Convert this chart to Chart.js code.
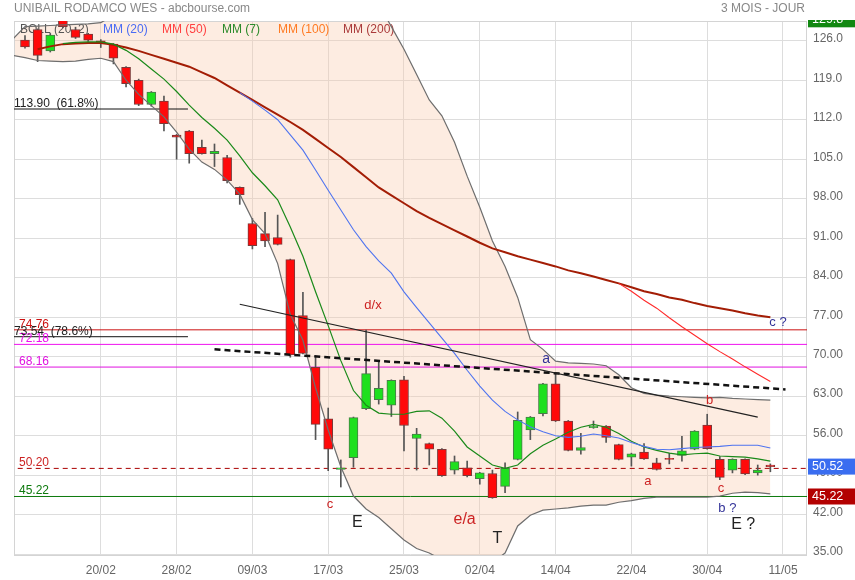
<!DOCTYPE html>
<html lang="fr">
<head>
<meta charset="utf-8">
<title>UNIBAIL RODAMCO WES - abcbourse.com</title>
<script src="https://cdn.jsdelivr.net/npm/chart.js@4.4.1/dist/chart.umd.min.js"></script>
<style>
  html, body { margin: 0; padding: 0; background: #fff; }
  #zone { width: 855px; height: 580px; }
</style>
</head>
<body>
<div id="zone"><canvas id="graf" width="855" height="580"></canvas></div>
<script>
const FONT = "'Liberation Sans', Arial, sans-serif";

// 🔹 AXES
const dateLabels = ['20/02', '28/02', '09/03', '17/03', '25/03', '02/04', '14/04', '22/04', '30/04', '11/05'];
const dateIndex = [6, 12, 18, 24, 30, 36, 42, 48, 54, 60];
const yTicks = [35, 42, 49, 56, 63, 70, 77, 84, 91, 98, 105, 112, 119, 126];

// 🔹 BOUGIES (une par séance, depuis le 12/02)
const opens = [126.1, 128.0, 124.2, 130.2, 128.0, 127.2, 126.0, 125.4, 121.3, 119.0,
  114.7, 115.3, 109.3, 110.0, 107.1, 106.0, 105.3, 100.0, 93.6, 91.8,
  91.1, 87.2, 77.3, 68.1, 59.0, 50.0, 52.1, 60.8, 62.4, 61.4,
  65.9, 55.5, 54.6, 53.6, 49.9, 50.3, 48.4, 49.3, 47.0, 51.8,
  57.0, 59.9, 65.2, 58.6, 53.4, 57.4, 57.7, 54.4, 52.2, 53.1,
  51.2, 52.0, 52.5, 53.6, 57.9, 51.8, 49.9, 51.8, 49.4, 50.8];
const highs = [126.9, 128.1, 127.3, 130.6, 128.4, 127.3, 126.2, 125.5, 121.4, 119.2,
  117.0, 116.2, 109.4, 110.1, 108.4, 107.7, 105.7, 100.1, 94.5, 95.6,
  95.1, 87.3, 81.4, 70.0, 60.9, 51.7, 59.3, 74.7, 69.1, 65.9,
  66.5, 57.3, 54.7, 53.7, 52.4, 51.5, 49.5, 49.9, 51.2, 60.2,
  59.4, 65.3, 67.1, 58.7, 56.4, 58.6, 57.8, 54.5, 52.9, 54.6,
  52.0, 52.9, 55.9, 56.9, 59.8, 52.3, 51.9, 51.9, 50.8, 51.0];
const lows = [124.7, 122.3, 124.0, 128.3, 126.4, 125.9, 124.8, 121.9, 117.8, 114.5,
  114.4, 110.0, 105.0, 104.3, 105.9, 103.7, 100.8, 97.0, 89.1, 89.5,
  89.8, 69.9, 70.5, 55.3, 49.8, 46.9, 50.4, 60.6, 61.6, 59.4,
  53.3, 49.9, 50.8, 48.8, 49.2, 48.7, 47.4, 44.9, 45.9, 51.7,
  55.3, 59.5, 58.5, 53.3, 52.7, 57.3, 54.8, 51.7, 50.6, 51.8,
  49.9, 51.0, 51.5, 53.5, 53.6, 48.2, 49.4, 49.1, 49.0, 49.6];
const closes = [124.9, 123.4, 127.0, 128.5, 126.6, 126.1, 125.5, 122.9, 118.4, 114.7,
  116.9, 111.3, 108.9, 106.0, 106.0, 106.4, 101.2, 98.7, 89.7, 90.5,
  89.9, 70.3, 70.6, 58.0, 53.6, 50.3, 59.2, 67.0, 64.4, 65.8,
  57.8, 56.3, 53.6, 48.9, 51.4, 48.9, 49.4, 45.0, 50.2, 58.7,
  59.3, 65.2, 58.6, 53.4, 53.9, 57.7, 55.7, 51.8, 52.8, 51.9,
  50.0, 51.8, 53.3, 56.8, 53.7, 48.6, 51.8, 49.2, 49.9, 50.52];

// 🔹 BOLLINGER (commence une séance avant la première bougie)
const bollUp = [126.2,
  128.5, 128.6, 128.7, 128.8, 128.9, 129.0, 129.2, 130.5, 132.5, 134.5,
  136.5, 138.5, 140.0, 141.5, 142.5, 143.5, 144.5, 145.5, 146.5, 147.0,
  147.0, 147.0, 146.5, 145.5, 144.0, 142.0, 139.5, 136.5, 132.5, 128.5,
  124.5, 120.0, 115.5, 112.7, 108.0, 102.0, 96.5, 90.5, 86.0, 80.5,
  73.0, 71.3, 69.2, 68.9, 68.8, 68.7, 68.4, 66.8, 64.5, 63.5,
  63.2, 63.0, 62.9, 62.8, 62.7, 62.8, 62.6, 62.5, 62.4, 62.3];
const bollDown = [123.4,
  123.0, 122.5, 122.4, 122.3, 122.4, 122.7, 122.9, 122.3, 119.0, 116.5,
  114.5, 112.5, 109.8, 106.8, 104.5, 103.2, 101.3, 98.8, 94.3, 91.8,
  86.5, 77.5, 72.9, 64.5, 57.0, 50.5, 45.3, 43.0, 41.5, 39.5,
  37.5, 36.0, 35.2, 34.0, 33.0, 32.5, 32.5, 33.5, 35.2, 40.0,
  41.9, 42.8, 43.0, 43.2, 43.5, 43.7, 43.7, 44.2, 44.5, 44.9,
  45.1, 45.1, 45.1, 45.1, 45.1, 45.3, 45.8, 46.0, 45.9, 45.7];

// 🔹 MOYENNES MOBILES
const mm7 = [null, null, null, 125.5, 125.7, 125.8, 125.8, 125.4, 124.3, 122.8,
  121.0, 119.2, 117.0, 114.6, 112.4, 110.5, 108.4, 105.6, 102.6, 100.3,
  97.8, 93.0, 87.8, 81.5, 75.5, 69.3, 64.0, 61.4, 60.0, 59.8,
  59.8, 60.3, 60.4, 59.1, 56.8, 54.0, 52.4, 50.8, 50.2, 50.8,
  52.8, 54.3, 55.4, 56.6, 57.5, 58.0, 57.5, 56.4, 55.0, 54.0,
  53.4, 52.9, 52.6, 52.8, 52.9, 52.4, 52.3, 52.2, 51.9, 51.5];
const mm20 = [null, null, null, null, null, null, null, null, null, null,
  null, null, null, null, null, null, null, 116.8, 115.3, 113.7,
  112.0, 109.3, 106.6, 103.1, 99.5, 96.0, 92.5, 89.5, 87.0, 84.8,
  81.5, 78.7, 76.0, 73.3, 70.6, 67.6, 64.8, 62.3, 60.3, 58.8,
  57.6, 56.7, 56.0, 55.7, 55.9, 56.3, 56.0, 55.6, 54.8, 54.1,
  53.6, 53.5, 53.7, 53.9, 54.0, 54.1, 54.3, 54.3, 54.3, 53.8];
const mm50 = [null, null, null, null, null, null, null, null, null, null,
  null, null, null, null, null, null, null, null, null, null,
  null, null, null, null, null, null, null, null, null, null,
  null, null, null, null, null, null, null, null, null, null,
  null, null, null, null, null, null, null, 83.0, 81.6, 80.0,
  78.6, 76.9, 75.3, 73.8, 72.3, 70.9, 69.6, 68.2, 66.9, 65.6];
const mm200 = [null, 124.5, 125.0, 125.4, 125.5, 125.6, 125.6, 125.3, 124.8, 124.2,
  123.5, 122.8, 122.1, 121.4, 120.4, 119.4, 118.1, 116.8, 115.5, 114.2,
  112.9, 111.6, 110.2, 108.6, 107.0, 105.4, 103.6, 101.8, 100.0, 98.6,
  97.2, 95.8, 94.6, 93.5, 92.4, 91.3, 90.2, 89.2, 88.5, 87.8,
  87.2, 86.6, 86.0, 85.3, 84.8, 84.2, 83.6, 83.0, 82.3, 81.6,
  81.1, 80.5, 80.1, 79.5, 79.0, 78.6, 78.2, 77.7, 77.3, 77.0];

// 🔹 NIVEAUX, FIBO, OBLIQUES
const levels = [74.76, 72.18, 68.16, 50.20, 45.22];
const levelColors = ['#cc1111', '#ee11ee', '#e011e0', '#aa0000', '#0d7a0d'];
const fibValues = [113.90, 73.54];
const fibTexts = ['113.90  (61.8%)', '73.54  (78.6%)'];
const fibEnd = 12.9;
const trendX = [17, 58];
const trendY = [79.3, 59.3];
const dashX = [15, 60.2];
const dashY = [71.3, 64.2];

// 🔹 ANNOTATIONS
const notes = ['d/x', 'c', 'E', 'e/a', 'T', 'a', 'a', 'b', 'c', 'b ?', 'E ?', 'c ?'];
const notesX = [27.55, 24.15, 26.3, 34.8, 37.4, 41.25, 49.3, 54.2, 55.1, 55.6, 56.85, 59.6];
const notesY = [79.1, 43.9, 40.6, 41.1, 37.7, 69.6, 47.9, 62.3, 46.7, 43.1, 40.3, 76.1];
const notesColor = ['#cc2222', '#cc2222', '#222', '#cc2222', '#222', '#333399', '#cc2222', '#cc2222', '#cc2222', '#333399', '#222', '#333399'];
const notesSize = [13, 13, 16, 16, 16, 14, 13, 13, 13, 13, 16, 13];

const legendTexts = ['BOLL (20, 2)', 'MM (20)', 'MM (50)', 'MM (7)', 'MM (100)', 'MM (200)'];
const legendColors = ['#555', '#4a6cf4', '#ff4040', '#2a8a2a', '#ff7a22', '#aa3a3a'];
const legendX = [20, 103, 162, 222, 278, 343];

const idx = closes.map((_, i) => i);
const pts = (vals, start) => vals.map((v, k) => ({ x: k + start, y: v }));

function ligne(vals, start, color, width, order) {
  return {
    type: 'line', data: pts(vals, start), borderColor: color, borderWidth: width,
    pointRadius: 0, fill: false, tension: 0, order: order
  };
}

const datasets = [];
const haut = ligne(bollUp, -1, '#6e6e6e', 1.2, 3);
haut.fill = '+1';
haut.backgroundColor = 'rgba(250, 200, 170, 0.35)';
datasets.push(haut);
datasets.push(ligne(bollDown, -1, '#6e6e6e', 1.2, 3));
datasets.push(ligne(mm20, 0, '#4f74f0', 1.1, 2));
datasets.push(ligne(mm50, 0, '#ff2a2a', 1.1, 2));
datasets.push(ligne(mm7, 0, '#1a8a1a', 1.2, 2));
datasets.push(ligne(mm200, 0, '#a31d05', 2, 2));

const oblique = ligne([trendY[0], trendY[1]], 0, '#222', 1.2, 1);
oblique.data = trendX.map((x, k) => ({ x: x, y: trendY[k] }));
datasets.push(oblique);
const pointilles = ligne([dashY[0], dashY[1]], 0, '#111', 2.5, 1);
pointilles.data = dashX.map((x, k) => ({ x: x, y: dashY[k] }));
pointilles.borderDash = [6, 4];
datasets.push(pointilles);

levels.forEach((v, k) => {
  const d = ligne([v, v], 0, levelColors[k], 1, 6);
  d.data = [{ x: -2, y: v }, { x: 64, y: v }];
  if (k === 3) d.borderDash = [5, 4];
  datasets.push(d);
});
fibValues.forEach(v => {
  const d = ligne([v, v], 0, '#111', 1, 6);
  d.data = [{ x: -2, y: v }, { x: fibEnd, y: v }];
  datasets.push(d);
});

// mèches puis corps des bougies
datasets.push({
  type: 'bar', data: idx.map(i => ({ x: i, y: [lows[i], highs[i]] })),
  backgroundColor: '#555', barThickness: 1, grouped: false, order: 5
});
datasets.push({
  type: 'bar', data: idx.map(i => ({ x: i, y: [opens[i], closes[i]] })),
  backgroundColor: idx.map(i => closes[i] >= opens[i] ? '#1ee01e' : '#ff0a0a'),
  borderColor: idx.map(i => closes[i] >= opens[i] ? '#4a7a4a' : '#7a3a3a'),
  borderWidth: 1, borderSkipped: false, barThickness: 9, grouped: false, order: 4
});

// 🔹 TEXTES DU GRAPHIQUE
const habillage = {
  id: 'habillage',
  beforeDatasetsDraw(chart) {
    const { ctx, chartArea: a } = chart;
    ctx.save();
    ctx.strokeStyle = '#d4d4d4';
    ctx.lineWidth = 1;
    ctx.strokeRect(a.left + 0.5, a.top + 0.5, a.right - a.left - 1, a.bottom - a.top);
    ctx.font = '12px ' + FONT;
    ctx.textBaseline = 'middle';
    ctx.textAlign = 'left';
    legendTexts.forEach((t, k) => {
      ctx.fillStyle = legendColors[k];
      ctx.fillText(t, legendX[k], 30);
    });
    ctx.restore();
  },
  afterDatasetsDraw(chart) {
    const { ctx, chartArea: a, scales } = chart;
    ctx.save();
    ctx.font = '12px ' + FONT;
    ctx.textAlign = 'left';
    ctx.textBaseline = 'alphabetic';
    levels.forEach((v, k) => {
      ctx.fillStyle = k === 3 ? '#cc2222' : levelColors[k];
      ctx.fillText(v.toFixed(2), a.left + 5, scales.y.getPixelForValue(v) - 2);
    });
    ctx.fillStyle = '#222';
    fibValues.forEach((v, k) => {
      ctx.fillText(fibTexts[k], a.left, scales.y.getPixelForValue(v) - 2);
    });
    ctx.textAlign = 'center';
    ctx.textBaseline = 'middle';
    notes.forEach((t, k) => {
      ctx.font = notesSize[k] + 'px ' + FONT;
      ctx.fillStyle = notesColor[k];
      ctx.fillText(t, scales.x.getPixelForValue(notesX[k]), scales.y.getPixelForValue(notesY[k]));
    });
    ctx.restore();
  },
  afterDraw(chart) {
    const { ctx, chartArea: a, scales } = chart;
    ctx.save();
    ctx.font = '12px ' + FONT;
    ctx.fillStyle = '#888';
    ctx.textBaseline = 'middle';
    ctx.textAlign = 'left';
    ctx.fillText('UNIBAIL RODAMCO WES - abcbourse.com', 14, 9);
    ctx.textAlign = 'right';
    ctx.fillText('3 MOIS - JOUR', 805, 9);

    // étiquettes sur l'axe de droite
    ctx.beginPath();
    ctx.rect(a.right, a.top - 1, 855 - a.right, 580);
    ctx.clip();
    const boites = [[129.8, '#118811'], [closes[closes.length - 1], '#3a6df0'], [levels[4], '#b30000']];
    ctx.textAlign = 'left';
    ctx.font = '12.5px ' + FONT;
    boites.forEach(([v, c]) => {
      const y = scales.y.getPixelForValue(v);
      ctx.fillStyle = c;
      ctx.fillRect(a.right + 1, y - 8, 855 - a.right, 16);
      ctx.fillStyle = '#fff';
      ctx.fillText(v.toFixed(v >= 100 ? 1 : 2), a.right + 5, y);
    });
    ctx.restore();
  }
};

// 🔹 GRAPHIQUE
const grafica = new Chart(document.getElementById('graf').getContext('2d'), {
  type: 'bar',
  data: { datasets: datasets },
  options: {
    responsive: false,
    animation: false,
    devicePixelRatio: 1,
    layout: { padding: { left: 14, top: 21, right: 0, bottom: 0 } },
    plugins: {
      legend: { display: false },
      tooltip: { enabled: false },
      filler: { drawTime: 'beforeDatasetsDraw' }
    },
    scales: {
      x: {
        type: 'linear', min: -0.87, max: 61.9, offset: false,
        afterBuildTicks: s => { s.ticks = dateIndex.map(v => ({ value: v })); },
        ticks: {
          callback: (v, i) => dateLabels[i],
          color: '#666', font: { size: 12, family: FONT }, padding: 8,
          maxRotation: 0, autoSkip: false
        },
        grid: { color: '#dddddd', drawTicks: false, offset: false },
        border: { display: false },
        afterFit: s => { s.height = 25; }
      },
      y: {
        position: 'right', min: 34.85, max: 129.5,
        afterBuildTicks: s => { s.ticks = yTicks.map(v => ({ value: v })); },
        ticks: {
          callback: v => Number(v).toPrecision(4),
          color: '#666', font: { size: 12, family: FONT }, padding: 6, labelOffset: -2
        },
        grid: { color: '#dddddd', drawTicks: false },
        border: { display: false },
        afterFit: s => { s.width = 48; }
      }
    }
  },
  plugins: [habillage]
});
</script>
</body>
</html>
